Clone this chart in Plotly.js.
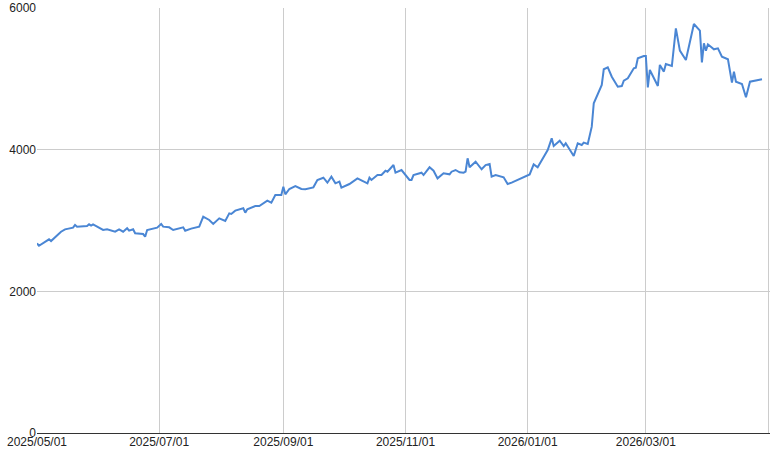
<!DOCTYPE html>
<html>
<head>
<meta charset="utf-8">
<script src="https://cdn.plot.ly/plotly-3.0.1.min.js"></script>
<style>html,body{margin:0;padding:0;background:#fff;}#chart{width:772px;height:460px;}</style>
</head>
<body>
<div id="chart"></div>
<script>
const dates = [
"2025-05-01","2025-05-02","2025-05-07","2025-05-08","2025-05-13","2025-05-15","2025-05-19","2025-05-20","2025-05-21","2025-05-26",
"2025-05-27","2025-05-28","2025-05-29","2025-06-01","2025-06-03","2025-06-05","2025-06-08","2025-06-09","2025-06-11","2025-06-13",
"2025-06-15","2025-06-16","2025-06-18","2025-06-19","2025-06-23","2025-06-24","2025-06-25","2025-06-30","2025-07-02","2025-07-03",
"2025-07-06","2025-07-08","2025-07-13","2025-07-14","2025-07-17","2025-07-21","2025-07-23","2025-07-26","2025-07-28","2025-07-31",
"2025-08-03","2025-08-05","2025-08-06","2025-08-08","2025-08-12","2025-08-13","2025-08-14","2025-08-18","2025-08-20","2025-08-24",
"2025-08-26","2025-08-28","2025-08-31","2025-09-01","2025-09-02","2025-09-04","2025-09-07","2025-09-10","2025-09-12","2025-09-16",
"2025-09-18","2025-09-21","2025-09-23","2025-09-25","2025-09-27","2025-09-29","2025-09-30","2025-10-04","2025-10-08","2025-10-11",
"2025-10-13","2025-10-14","2025-10-15","2025-10-18","2025-10-20","2025-10-22","2025-10-23","2025-10-26","2025-10-27","2025-10-30",
"2025-11-03","2025-11-04","2025-11-05","2025-11-09","2025-11-10","2025-11-13","2025-11-15","2025-11-17","2025-11-20","2025-11-23",
"2025-11-24","2025-11-26","2025-11-28","2025-11-30","2025-12-01","2025-12-02","2025-12-03","2025-12-06","2025-12-09","2025-12-11",
"2025-12-13","2025-12-14","2025-12-16","2025-12-20","2025-12-22","2025-12-24","2025-12-28","2026-01-02","2026-01-04","2026-01-06",
"2026-01-11","2026-01-13","2026-01-14","2026-01-17","2026-01-19","2026-01-20","2026-01-24","2026-01-26","2026-01-28","2026-01-29",
"2026-01-31","2026-02-02","2026-02-03","2026-02-05","2026-02-07","2026-02-08","2026-02-10","2026-02-12","2026-02-15","2026-02-17",
"2026-02-18","2026-02-20","2026-02-23","2026-02-24","2026-02-25","2026-02-28","2026-03-01","2026-03-02","2026-03-03","2026-03-07",
"2026-03-08","2026-03-10","2026-03-11","2026-03-14","2026-03-16","2026-03-18","2026-03-21","2026-03-25","2026-03-28","2026-03-29",
"2026-03-30","2026-03-31","2026-04-01","2026-04-04","2026-04-06","2026-04-08","2026-04-11","2026-04-13","2026-04-14","2026-04-15",
"2026-04-18","2026-04-20","2026-04-22","2026-04-28"
];
const values = [
2678,2644,2734,2710,2842,2875,2899,2937,2913,2922,
2946,2927,2946,2904,2866,2875,2856,2842,2875,2842,
2890,2856,2875,2819,2809,2771,2866,2899,2951,2913,
2904,2866,2904,2856,2885,2913,3054,3007,2951,3030,
2993,3101,3092,3139,3172,3110,3158,3205,3205,3280,
3252,3360,3360,3478,3370,3445,3487,3445,3440,3468,
3572,3604,3534,3619,3525,3548,3464,3515,3595,3558,
3525,3604,3572,3642,3642,3703,3689,3783,3675,3713,
3572,3572,3642,3675,3642,3751,3703,3595,3666,3652,
3689,3713,3680,3675,3689,3878,3751,3830,3723,3783,
3797,3619,3642,3609,3515,3534,3581,3650,3793,3751,
3995,4160,4052,4127,4052,4090,3911,4090,4066,4099,
4080,4325,4655,4772,4913,5135,5163,5030,4889,4899,
4974,5007,5149,5158,5290,5323,5323,4880,5125,4899,
5196,5102,5210,5182,5713,5398,5266,5774,5680,5233,
5501,5398,5487,5417,5431,5313,5276,4946,5102,4960,
4927,4739,4960,4993
];
const yTicks = [0, 2000, 4000, 6000];
const xRange = ["2025-05-01", "2026-05-02"];

const trace = {
  x: dates, y: values, type: "scatter", mode: "lines",
  line: {color: "#4a86d4", width: 2},
  hoverinfo: "skip"
};
const layout = {
  width: 772, height: 460,
  margin: {l: 37, r: 2, t: 8, b: 27},
  paper_bgcolor: "#fff", plot_bgcolor: "#fff",
  showlegend: false,
  font: {family: "Liberation Sans, Arial, sans-serif", size: 12, color: "#222"},
  xaxis: {
    type: "date", range: xRange,
    tick0: "2025-05-01", dtick: "M2", tickformat: "%Y/%m/%d",
    showgrid: true, gridcolor: "#cccccc", gridwidth: 1,
    zeroline: false, showline: false, ticks: "",
    tickfont: {size: 12, color: "#222"}
  },
  yaxis: {
    range: [0, 6000], tickvals: yTicks, ticktext: yTicks.map(String),
    showgrid: true, gridcolor: "#cccccc", gridwidth: 1,
    zeroline: true, zerolinecolor: "#333333", zerolinewidth: 1,
    showline: false, ticks: "",
    tickfont: {size: 12, color: "#222"}
  }
};
Plotly.newPlot("chart", [trace], layout, {displayModeBar: false, staticPlot: true});
</script>
</body>
</html>
